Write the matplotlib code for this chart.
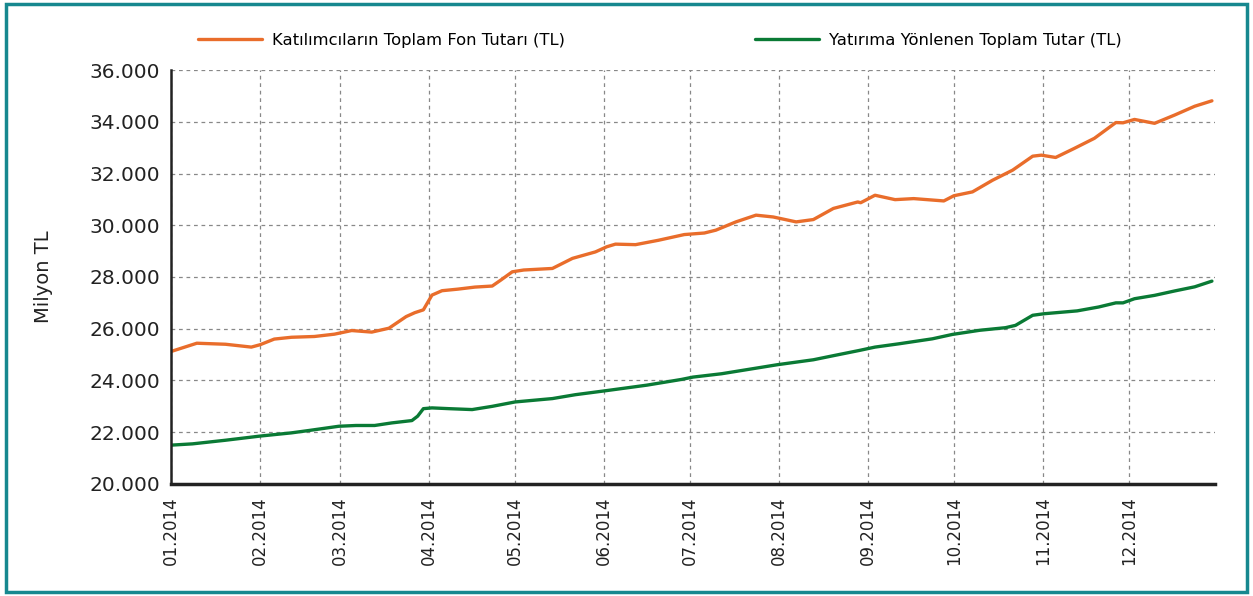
import matplotlib.pyplot as plt
import matplotlib.dates as mdates
import pandas as pd
from matplotlib.patches import Rectangle

# gün numarası (01.01.2014'ten itibaren) ve değerler (milyon TL)
fon_gun = [0, 9, 19, 28, 31, 36, 42, 50, 57, 63, 70, 76, 82, 85, 88, 91, 94.5, 100,
           106, 112, 115, 119, 123, 133, 140, 148, 152, 155, 162, 170, 179, 186, 190,
           197, 204, 210, 218, 224, 231, 239.5, 240.5, 245.5, 252.5, 259, 269.5, 273,
           279.5, 286.5, 293.5, 300.5, 303.5, 308.5, 315, 322, 329.5, 332, 336, 343,
           350, 357, 363]
fon_tutar = [25120, 25440, 25400, 25290, 25380, 25600, 25670, 25700, 25790, 25930,
             25870, 26020, 26470, 26620, 26730, 27300, 27470, 27530, 27610, 27650,
             27880, 28200, 28270, 28330, 28720, 28970, 29170, 29270, 29250, 29420,
             29640, 29700, 29810, 30130, 30390, 30320, 30130, 30220, 30650, 30900,
             30870, 31160, 30990, 31030, 30940, 31140, 31290, 31740, 32130, 32670,
             32710, 32620, 32970, 33360, 33970, 33960, 34090, 33940, 34260, 34600,
             34810]

yat_gun = [0, 7.5, 19, 31, 42, 48, 58.5, 64.5, 71, 77, 84, 86, 88, 91, 97, 105, 112,
           120, 133, 141, 152, 166, 178, 182, 192, 211.5, 224, 231.5, 240, 245.5, 254,
           265.5, 272.5, 282, 291, 294.5, 300.5, 304.5, 316, 323.5, 329.5, 332, 336,
           343, 350, 357, 363]
yat_tutar = [21500, 21550, 21690, 21850, 21975, 22065, 22230, 22260, 22260, 22360,
             22450, 22620, 22910, 22940, 22910, 22875, 23000, 23170, 23300, 23450,
             23610, 23820, 24040, 24130, 24260, 24610, 24800, 24970, 25160, 25290,
             25420, 25610, 25780, 25940, 26040, 26130, 26520, 26580, 26690, 26840,
             27000, 27000, 27160, 27290, 27460, 27620, 27840]

seri_adlari = ['Katılımcıların Toplam Fon Tutarı (TL)', 'Yatırıma Yönlenen Toplam Tutar (TL)']
y_etiketler = ['20.000', '22.000', '24.000', '26.000', '28.000', '30.000', '32.000', '34.000', '36.000']
y_degerler = [20000, 22000, 24000, 26000, 28000, 30000, 32000, 34000, 36000]

baslangic = pd.Timestamp('2014-01-01')
fon_tarih = baslangic + pd.to_timedelta(fon_gun, unit='D')
yat_tarih = baslangic + pd.to_timedelta(yat_gun, unit='D')
aylar = pd.date_range('2014-01-01', '2014-12-01', freq='MS')

fig = plt.figure(figsize=(12.53, 5.96), dpi=100)
ax = fig.add_axes([0.1365, 0.188, 0.833, 0.6945])

ax.plot(fon_tarih, fon_tutar, color='#E96D2B', lw=2.4, solid_joinstyle='round',
        solid_capstyle='round', label=seri_adlari[0])
ax.plot(yat_tarih, yat_tutar, color='#0A7A35', lw=2.4, solid_joinstyle='round',
        solid_capstyle='round', label=seri_adlari[1])

ax.set_ylim(20000, 36000)
ax.set_xlim(baslangic, baslangic + pd.Timedelta(days=364))
ax.set_yticks(y_degerler)
ax.set_yticklabels(y_etiketler, fontsize=14.5, color='#222222')
ax.set_xticks(aylar)
ax.xaxis.set_major_formatter(mdates.DateFormatter('%m.%Y'))
plt.setp(ax.get_xticklabels(), rotation=90, fontsize=12, color='#222222')
ax.tick_params(axis='both', length=0, pad=8)
ax.tick_params(axis='x', pad=9)

ax.grid(True, color='#888888', linestyle=(0, (3, 3)), linewidth=0.9)
ax.set_axisbelow(True)
for s in ['top', 'right']:
    ax.spines[s].set_visible(False)
ax.spines['left'].set_linewidth(1.8)
ax.spines['bottom'].set_linewidth(2.5)
ax.spines['left'].set_color('#222222')
ax.spines['bottom'].set_color('#222222')

ax.set_ylabel('Milyon TL', fontsize=14, color='#222222', labelpad=26)

ax.legend(loc='lower left', bbox_to_anchor=(0.012, 1.018), ncol=2, frameon=False,
          fontsize=11.8, handlelength=3.9, columnspacing=11.6, handletextpad=0.6)

fig.patches.append(Rectangle((0.005, 0.006), 0.99, 0.988, transform=fig.transFigure,
                             fill=False, edgecolor='#17888F', linewidth=2.5))

fig.savefig('out.png', dpi=100)
